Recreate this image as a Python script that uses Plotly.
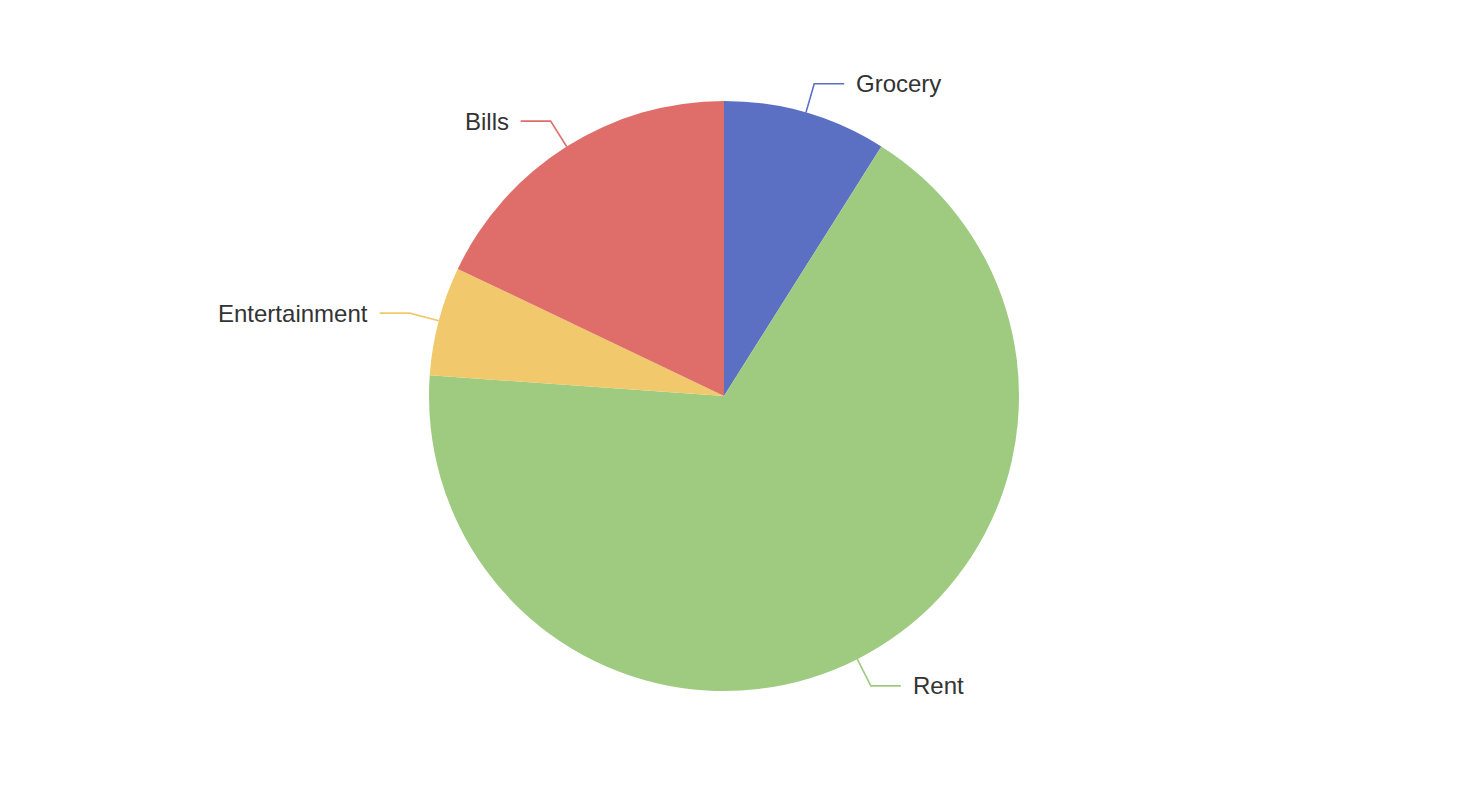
import math
import plotly.graph_objects as go

categories = ["Grocery", "Rent", "Entertainment", "Bills"]
values = [300, 2250, 200, 600]
colors = ["#5b70c3", "#9ecb80", "#f1c96c", "#df6e6a"]

W, H = 1478, 790
OFF = 8  # page body margin
CX, CY, R = 724 - OFF, 396 - OFF, 295
LEN1, LEN2, GAP = 30, 30, 10

fig = go.Figure(go.Pie(
    labels=categories,
    values=values,
    sort=False,
    direction="clockwise",
    rotation=0,
    marker=dict(colors=colors, line=dict(width=0)),
    textinfo="none",
    hoverinfo="label+value+percent",
    showlegend=False,
    domain=dict(x=[(CX - R) / W, (CX + R) / W], y=[(H - CY - R) / H, (H - CY + R) / H]),
))

def px(x, y):
    return x / W, 1 - y / H

total = sum(values)
cum = 0
shapes, annotations = [], []
for cat, val, col in zip(categories, values, colors):
    mid = (cum + val / 2) / total * 2 * math.pi
    cum += val
    s, c = math.sin(mid), math.cos(mid)
    ax, ay = CX + R * s, CY - R * c
    bx, by = CX + (R + LEN1) * s, CY - (R + LEN1) * c
    side = 1 if s >= 0 else -1
    ex = bx + side * LEN2
    p = [px(ax, ay), px(bx, by), px(ex, by)]
    path = "M {} {} L {} {} L {} {}".format(p[0][0], p[0][1], p[1][0], p[1][1], p[2][0], p[2][1])
    shapes.append(dict(type="path", xref="paper", yref="paper", path=path,
                       line=dict(color=col, width=1.6)))
    tx, ty = px(ex + side * GAP, by)
    annotations.append(dict(x=tx, y=ty, xref="paper", yref="paper", text=cat,
                            showarrow=False, xanchor="left" if side > 0 else "right",
                            yanchor="middle",
                            font=dict(family="Liberation Sans, Arial, sans-serif", size=24, color="#333333")))

fig.update_layout(
    width=W, height=H, autosize=False,
    margin=dict(l=0, r=0, t=0, b=0),
    paper_bgcolor="white", plot_bgcolor="white",
    shapes=shapes, annotations=annotations,
)

fig.write_html("out.html")
